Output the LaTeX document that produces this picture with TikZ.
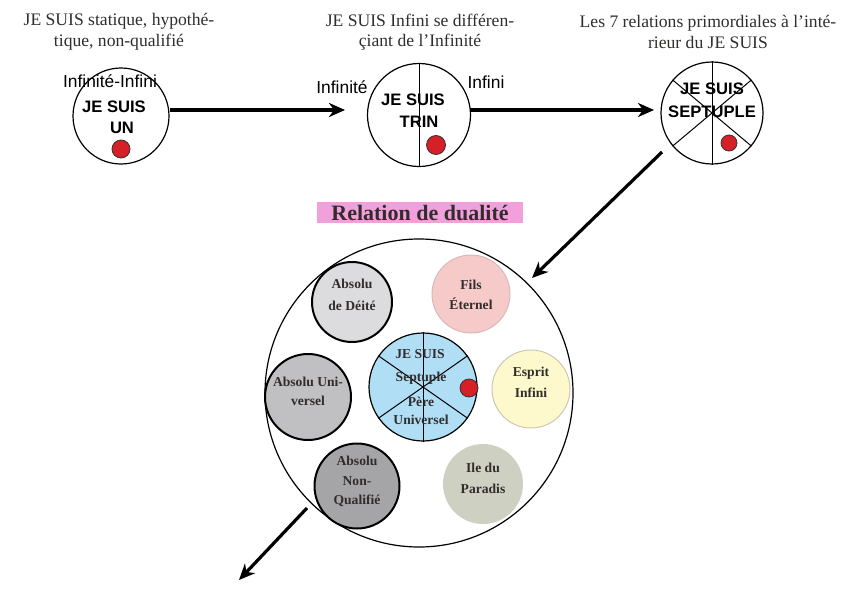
\documentclass[tikz,border=0pt]{standalone}
\usepackage{fontspec}
\setmainfont{Liberation Serif}
\newfontfamily\arialf{Liberation Sans}
\usetikzlibrary{arrows.meta}
\definecolor{titlecol}{RGB}{50,45,45}
\definecolor{pinkbox}{RGB}{242,160,220}
\definecolor{dotred}{RGB}{214,32,40}
\definecolor{deite}{RGB}{220,220,222}
\definecolor{fils}{RGB}{247,202,202}
\definecolor{filsb}{RGB}{215,185,185}
\definecolor{blue1}{RGB}{176,223,245}
\definecolor{univ}{RGB}{192,192,194}
\definecolor{esprit}{RGB}{253,249,205}
\definecolor{espritb}{RGB}{205,200,180}
\definecolor{nonq}{RGB}{165,165,168}
\definecolor{ile}{RGB}{206,209,194}
\tikzset{
  title/.style={font=\fontsize{17.6}{20.5}\selectfont, text=titlecol, align=center, inner sep=0pt},
  sanslbl/.style={font=\arialf\fontsize{17.4}{20}\selectfont, inner sep=0pt},
  boldlbl/.style={font=\arialf\bfseries\fontsize{16.6}{19}\selectfont, inner sep=0pt},
  inlbl/.style={font=\bfseries\fontsize{13.6}{16}\selectfont, text=titlecol, inner sep=0pt},
  topcirc/.style={circle, draw, line width=1.2pt, inner sep=0pt},
  reddot/.style={circle, draw=black!80, line width=0.8pt, fill=dotred, inner sep=0pt, minimum size=18pt},
  bigarrow/.style={line width=3.6pt, -{Stealth[length=16pt,width=14pt,inset=5pt]}},
  smallc/.style={circle, inner sep=0pt, minimum size=#1},
}
\begin{document}
\begin{tikzpicture}[x=1pt,y=-1pt]
\useasboundingbox (0,0) rectangle (842,602);
\fill[white] (0,0) rectangle (842,602);

% titles
\node[title] (t1) at (119,32) {JE SUIS statique, hypoth\'e-\\tique, non-qualifi\'e};
\node[title] (t2) at (420,32) {JE SUIS Infini se diff\'eren-\\\c{c}iant de l'Infinit\'e};
\node[title] (t3) at (708,32) {Les 7 relations primordiales \`a l'int\'e-\\rieur du JE SUIS};

% circle 1
\node[topcirc, minimum size=96pt] (c1) at (121,116) {};
\node[sanslbl] (l1) at (110,81) {Infinit\'e-Infini};
\node[boldlbl] (c1a) at (114,107) {JE SUIS};
\node[boldlbl] (c1b) at (122,128) {UN};
\node[reddot] (d1) at (121,149) {};

% circle 2
\node[topcirc, minimum size=103pt] (c2) at (419,115) {};
\draw[line width=1pt] (c2.north) -- (c2.south);
\node[sanslbl] (l2a) at (342,87) {Infinit\'e};
\node[sanslbl] (l2b) at (486,82) {Infini};
\node[boldlbl] (c2a) at (413,100) {JE SUIS};
\node[boldlbl] (c2b) at (419,122) {TRIN};
\node[reddot, minimum size=19pt] (d2) at (436,145) {};

% circle 3
\node[topcirc, minimum size=102pt] (c3) at (712,113) {};
\draw[line width=1pt] (c3.north) -- (c3.south);
\draw[line width=1pt] (c3.140) -- (c3.320);
\draw[line width=1pt] (c3.40) -- (c3.220);
\node[boldlbl] (c3a) at (712,89) {JE SUIS};
\node[boldlbl] (c3b) at (712,112) {SEPTUPLE};
\node[reddot, minimum size=16pt] (d3) at (729,143) {};

% arrows on top
\coordinate (a1s) at (170,110);
\coordinate (a1e) at (345,110);
\coordinate (a2s) at (470,110);
\coordinate (a2e) at (654,110);
\draw[bigarrow] (a1s) -- (a1e);
\draw[bigarrow] (a2s) -- (a2e);

% relation de dualite
\node[fill=pinkbox, minimum width=206pt, minimum height=21pt, inner sep=0pt,
      font=\bfseries\fontsize{22}{24}\selectfont, text=titlecol] (rel) at (420,212.5) {Relation de dualit\'e};

% big circle
\node[circle, draw, line width=1.2pt, minimum size=308pt, inner sep=0pt] (big) at (419,393) {};

\coordinate (a3s) at (662,152);
\coordinate (a3e) at (532,278);
\draw[bigarrow, line width=3.2pt] (a3s) -- (a3e);

% small circles
\node[smallc=80pt, fill=deite, draw, line width=2pt] (deite) at (352,302) {};
\node[inlbl] at (352,284) {Absolu};
\node[inlbl] at (352,306) {de D\'eit\'e};

\node[smallc=78pt, fill=fils, draw=filsb, line width=1pt] (fils) at (471,294) {};
\node[inlbl] at (471,285) {Fils};
\node[inlbl] at (471,304) {\'Eternel};

\node[smallc=86pt, fill=univ, draw, line width=2pt] (univ) at (308,397) {};
\node[inlbl] at (308,382) {Absolu Uni-};
\node[inlbl] at (308,401) {versel};

\node[smallc=78pt, fill=esprit, draw=espritb, line width=1pt] (esprit) at (531,389) {};
\node[inlbl] at (531,373) {Esprit};
\node[inlbl] at (531,393) {Infini};

\node[smallc=85pt, fill=nonq, draw, line width=2pt] (nonq) at (357,486) {};
\node[inlbl] at (357,461) {Absolu};
\node[inlbl] at (357,481) {Non-};
\node[inlbl] at (357,501) {Qualifi\'e};

\node[smallc=80pt, fill=ile] (ile) at (483,484) {};
\node[inlbl] at (483,468) {Ile du};
\node[inlbl] at (483,489) {Paradis};

% central circle
\node[smallc=108pt, fill=blue1, draw, line width=1.2pt] (cen) at (423,387) {};
\draw[line width=1pt] (cen.north) -- (cen.south);
\draw[line width=1pt] (cen.145) -- (cen.325);
\draw[line width=1pt] (cen.35) -- (cen.215);
\node[inlbl] at (420,354) {JE SUIS};
\node[inlbl] at (421,378) {Septuple};
\node[inlbl] at (421,402) {P\`ere};
\node[inlbl] at (421,420) {Universel};
\node[reddot, minimum size=18pt] (d4) at (469,388) {};

% bottom arrow
\coordinate (a4s) at (307,508);
\coordinate (a4e) at (239,580);
\draw[bigarrow, line width=3.2pt] (a4s) -- (a4e);
\end{tikzpicture}
\end{document}
